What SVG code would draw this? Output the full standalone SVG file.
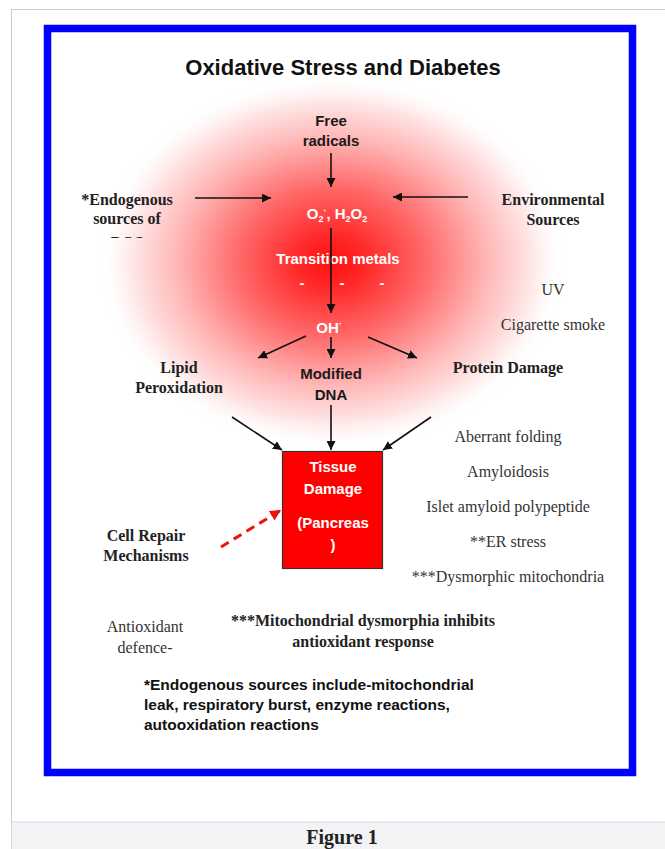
<svg xmlns="http://www.w3.org/2000/svg" width="665" height="849" viewBox="0 0 665 849">
<defs>
<radialGradient id="glow" cx="332" cy="262" r="235" gradientUnits="userSpaceOnUse" gradientTransform="translate(332 262) scale(1 0.8) translate(-332 -262)">
<stop offset="0" stop-color="#ff1010"/>
<stop offset="0.15" stop-color="#ff2a2a"/>
<stop offset="0.4" stop-color="#ff6a6a"/>
<stop offset="0.65" stop-color="#ffb4b4"/>
<stop offset="0.85" stop-color="#ffe6e6"/>
<stop offset="1" stop-color="#ffffff" stop-opacity="0"/>
</radialGradient>
<marker id="ah" viewBox="0 0 10 10" refX="10" refY="5" markerWidth="9" markerHeight="9" markerUnits="userSpaceOnUse" orient="auto">
<path d="M0,0 L10,5 L0,10 z" fill="#111"/>
</marker>
<marker id="ahr" viewBox="0 0 10 10" refX="10" refY="5" markerWidth="11" markerHeight="11" markerUnits="userSpaceOnUse" orient="auto">
<path d="M0,0 L10,5 L0,10 z" fill="#ee1111"/>
</marker>
<clipPath id="rosclip"><rect x="60" y="200" width="140" height="38"/></clipPath>
<style>
.sb{font-family:"Liberation Serif","Times New Roman",serif;font-weight:bold;font-size:16px;fill:#222;text-anchor:middle}
.sr{font-family:"Liberation Serif","Times New Roman",serif;font-size:16px;fill:#333;text-anchor:middle}
.ab{font-family:"Liberation Sans",Arial,sans-serif;font-weight:bold;font-size:15px;fill:#1a1a1a;text-anchor:middle}
.aw{font-family:"Liberation Sans",Arial,sans-serif;font-weight:bold;font-size:15px;fill:#ffffff;text-anchor:middle}
.con{stroke:#111;stroke-width:1.6;fill:none;marker-end:url(#ah)}
</style>
</defs>
<rect x="0" y="0" width="665" height="849" fill="#ffffff"/>
<rect x="11.5" y="9.5" width="670" height="813" fill="#ffffff" stroke="#c9c9e2" stroke-width="1"/>
<rect x="11.5" y="822" width="670" height="40" fill="#f2f3f5" stroke="#d6d8e6" stroke-width="1"/>
<text x="342" y="844" font-family="'Liberation Serif','Times New Roman',serif" font-weight="bold" font-size="20" fill="#222" text-anchor="middle">Figure 1</text>

<rect x="47.5" y="28.5" width="585" height="744" fill="#ffffff" stroke="#0000ff" stroke-width="7.5"/>
<ellipse cx="332" cy="262" rx="235" ry="188" fill="url(#glow)"/>

<text x="343" y="75" font-family="'Liberation Sans',Arial,sans-serif" font-weight="bold" font-size="22" fill="#111" text-anchor="middle">Oxidative Stress and Diabetes</text>

<g id="free-radicals"><text class="ab" x="331" y="126">Free</text><text class="ab" x="331" y="146">radicals</text></g>
<g id="ros-species"><text class="aw" x="337" y="219" font-size="13">O<tspan font-size="9" dy="3">2</tspan><tspan font-size="9" dy="-8">·</tspan><tspan dy="5">, H</tspan><tspan font-size="9" dy="3">2</tspan><tspan dy="-3">O</tspan><tspan font-size="9" dy="3">2</tspan></text></g>
<g id="endogenous"><text class="sb" x="127" y="205">*Endogenous</text><text class="sb" x="127" y="224">sources of</text><text class="sb" x="127" y="248" clip-path="url(#rosclip)">ROS</text></g>
<g id="environmental"><text class="sb" x="553" y="205">Environmental</text><text class="sb" x="553" y="225">Sources</text></g>
<g id="transition-metals"><text class="aw" x="338" y="264">Transition metals</text>
<text class="aw" x="302" y="288">-</text><text class="aw" x="342" y="288">-</text><text class="aw" x="382" y="288">-</text></g>
<g id="env-list"><text class="sr" x="553" y="295">UV</text><text class="sr" x="553" y="330">Cigarette smoke</text></g>
<g id="oh"><text class="aw" x="329" y="333">OH<tspan font-size="9" dy="-6">·</tspan></text></g>
<g id="lipid"><text class="sb" x="179" y="373">Lipid</text><text class="sb" x="179" y="393">Peroxidation</text></g>
<g id="dna"><text class="ab" x="331" y="379">Modified</text><text class="ab" x="331" y="400">DNA</text></g>
<g id="protein"><text class="sb" x="508" y="373">Protein Damage</text></g>
<g id="protein-list">
<text class="sr" x="508" y="442">Aberrant folding</text>
<text class="sr" x="508" y="477">Amyloidosis</text>
<text class="sr" x="508" y="512">Islet amyloid polypeptide</text>
<text class="sr" x="508" y="547">**ER stress</text>
<text class="sr" x="508" y="582">***Dysmorphic mitochondria</text>
</g>
<g id="tissue-damage">
<rect x="282.5" y="451.5" width="100" height="117" fill="#ff0000" stroke="#333" stroke-width="1.2"/>
<text class="aw" x="333" y="472">Tissue</text>
<text class="aw" x="333" y="494">Damage</text>
<text class="aw" x="333" y="528">(Pancreas</text>
<text class="aw" x="333" y="550">)</text>
</g>
<g id="cell-repair"><text class="sb" x="146" y="541">Cell Repair</text><text class="sb" x="146" y="561">Mechanisms</text></g>
<g id="antioxidant"><text class="sr" x="145" y="632" fill="#444">Antioxidant</text><text class="sr" x="145" y="653" fill="#444">defence-</text></g>
<g id="mito-note"><text class="sb" x="363" y="626">***Mitochondrial dysmorphia inhibits</text><text class="sb" x="363" y="647">antioxidant response</text></g>
<g id="footnote" font-family="'Liberation Sans',Arial,sans-serif" font-weight="bold" font-size="15.5" fill="#111">
<text x="144" y="690">*Endogenous sources include-mitochondrial</text>
<text x="144" y="710">leak, respiratory burst, enzyme reactions,</text>
<text x="144" y="730">autooxidation reactions</text>
</g>

<g id="connectors">
<line class="con" x1="331" y1="153" x2="331" y2="187"/>
<line class="con" x1="195" y1="198" x2="271" y2="198"/>
<line class="con" x1="468" y1="197" x2="393" y2="197"/>
<line class="con" x1="331" y1="228" x2="331" y2="313"/>
<line class="con" x1="306" y1="336" x2="258" y2="358"/>
<line class="con" x1="331" y1="337" x2="331" y2="358"/>
<line class="con" x1="368" y1="337" x2="417" y2="358"/>
<line class="con" x1="232" y1="417" x2="282" y2="450"/>
<line class="con" x1="331" y1="405" x2="331" y2="450"/>
<line class="con" x1="431" y1="417" x2="383" y2="450"/>
<line x1="221" y1="547" x2="281" y2="510" stroke="#ee1111" stroke-width="3" stroke-dasharray="9 6" marker-end="url(#ahr)"/>
</g>
</svg>
